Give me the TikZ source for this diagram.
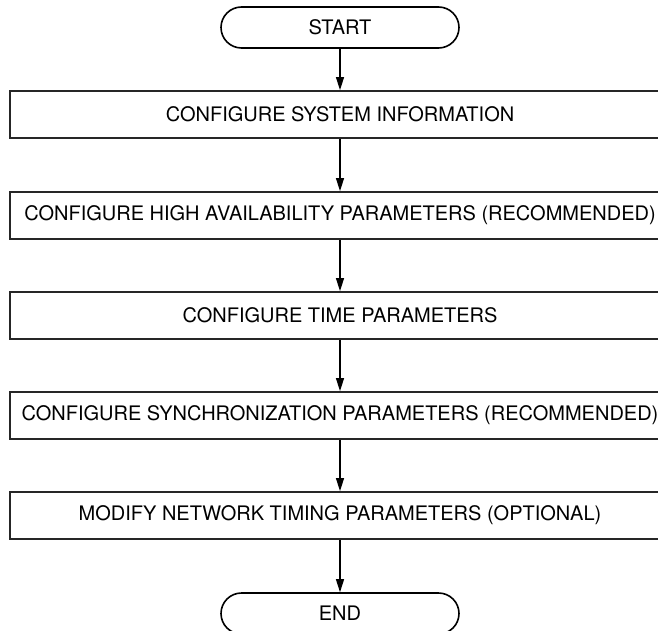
\documentclass[tikz,border=0pt]{standalone}
\usepackage{fontspec}
\setmainfont{TeX Gyre Heros}
\usetikzlibrary{arrows.meta}

\begin{document}
\begin{tikzpicture}[x=1pt,y=-1pt,font=\fontsize{20}{24}\selectfont,
 stepbox/.style={draw=black!85,line width=1.8pt,minimum width=660pt,minimum height=47pt,inner sep=0pt},
 term/.style={draw,line width=1.6pt,minimum width=238pt,minimum height=41pt,rounded corners=20.5pt},
 flow/.style={-{Triangle[length=13pt,width=8pt]},line width=1.1pt}]
 \useasboundingbox (0,0) rectangle (658,631);
 \clip (0,0) rectangle (658,631);
 \node[term] (start) at (340,27.5) {START};
 \node[stepbox] (sysinfo) at (340,114.5) {CONFIGURE SYSTEM INFORMATION};
 \node[stepbox] (highavail) at (340,215.5) {CONFIGURE HIGH AVAILABILITY PARAMETERS (RECOMMENDED)};
 \node[stepbox] (timepar) at (340,315.5) {CONFIGURE TIME PARAMETERS};
 \node[stepbox] (syncpar) at (340,415.5) {CONFIGURE SYNCHRONIZATION PARAMETERS (RECOMMENDED)};
 \node[stepbox] (nettiming) at (340,515.5) {MODIFY NETWORK TIMING PARAMETERS (OPTIONAL)};
 \node[term] (end) at (340,613.5) {END};
 \draw[flow] (start) -- (sysinfo);
 \draw[flow] (sysinfo) -- (highavail);
 \draw[flow] (highavail) -- (timepar);
 \draw[flow] (timepar) -- (syncpar);
 \draw[flow] (syncpar) -- (nettiming);
 \draw[flow] (nettiming) -- (end);
\end{tikzpicture}
\end{document}
